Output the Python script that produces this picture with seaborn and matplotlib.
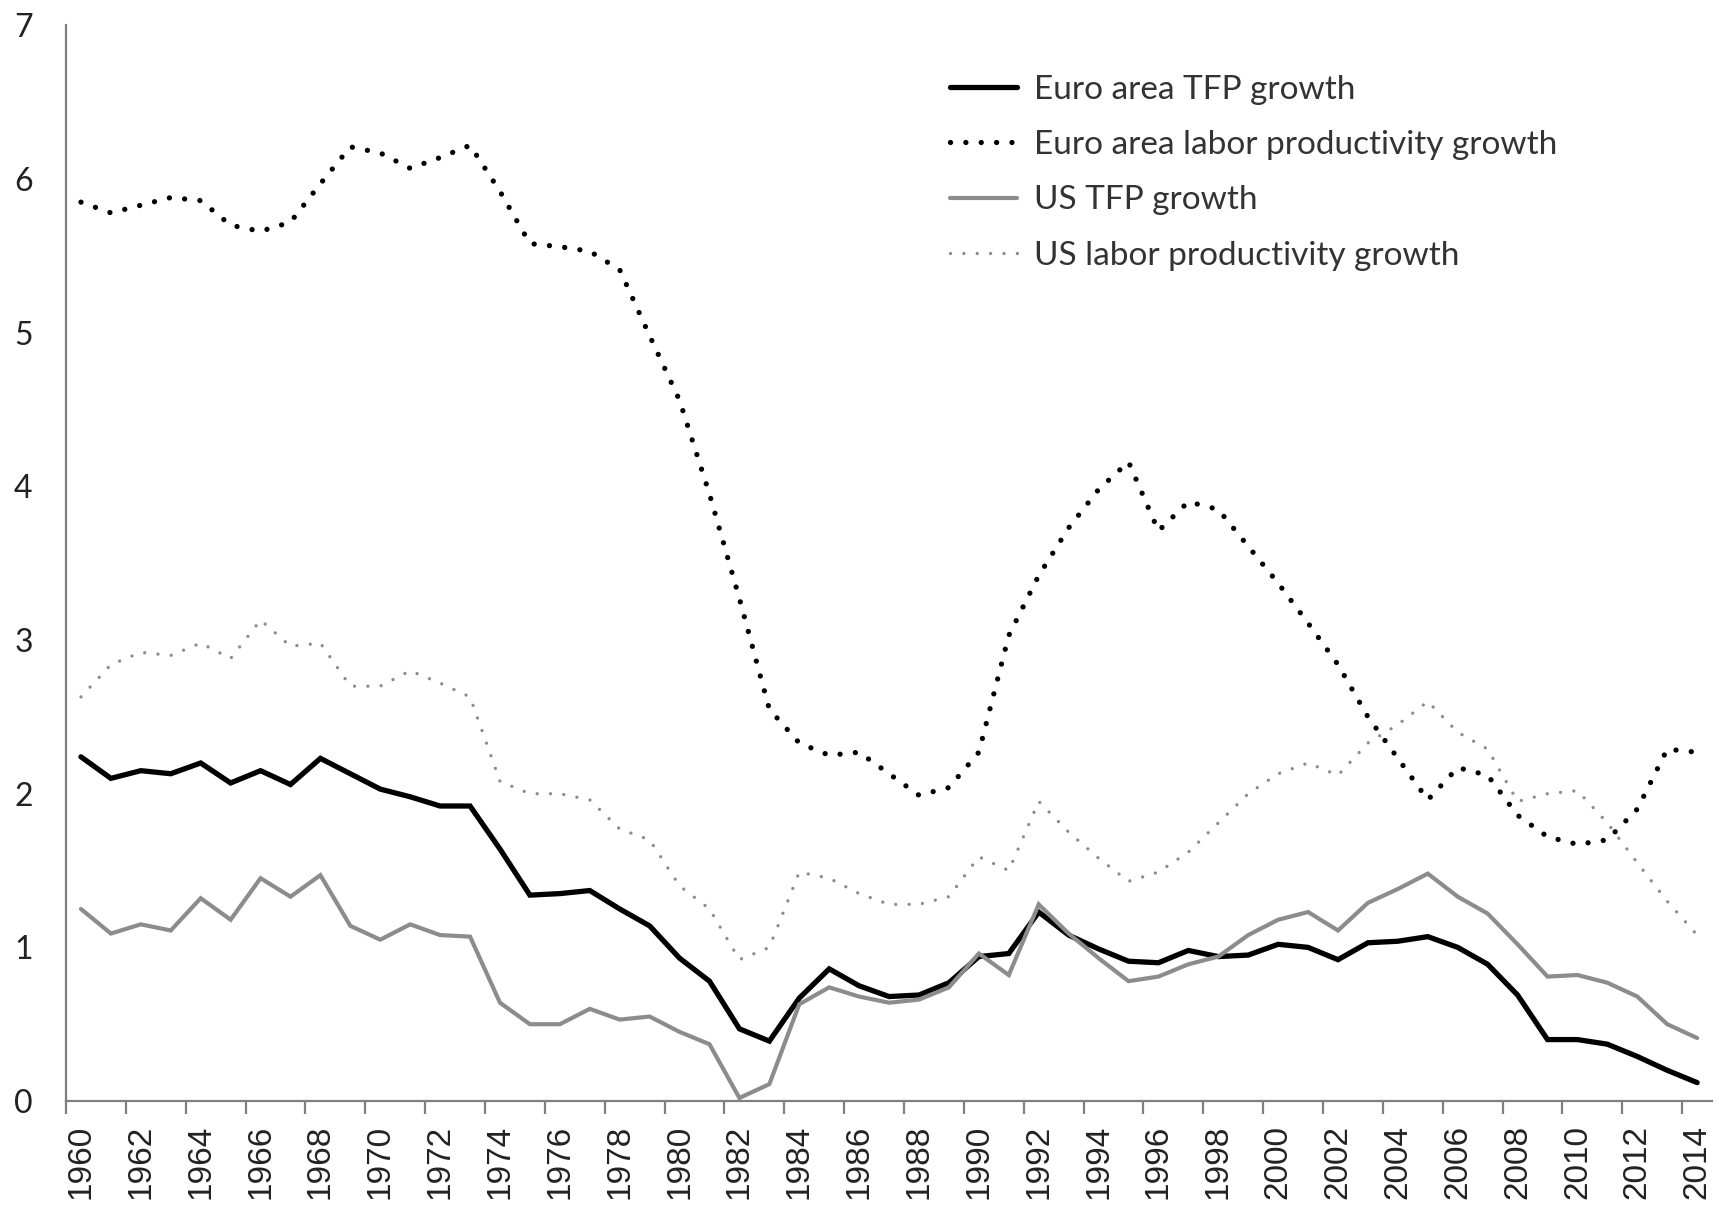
import numpy as np
import pandas as pd
import seaborn as sns
import matplotlib.pyplot as plt
from matplotlib.ticker import FixedLocator

years = list(range(1960, 2015))

euro_tfp = [2.24, 2.10, 2.15, 2.13, 2.20, 2.07, 2.15, 2.06, 2.23, 2.13,
            2.03, 1.98, 1.92, 1.92, 1.64, 1.34, 1.35, 1.37, 1.25, 1.14,
            0.93, 0.78, 0.47, 0.39, 0.67, 0.86, 0.75, 0.68, 0.69, 0.77,
            0.94, 0.96, 1.23, 1.08, 0.99, 0.91, 0.90, 0.98, 0.94, 0.95,
            1.02, 1.00, 0.92, 1.03, 1.04, 1.07, 1.00, 0.89, 0.69, 0.40,
            0.40, 0.37, 0.29, 0.20, 0.12]

euro_lp = [5.85, 5.78, 5.83, 5.88, 5.86, 5.70, 5.66, 5.72, 5.97, 6.21,
           6.17, 6.07, 6.14, 6.22, 5.92, 5.58, 5.56, 5.53, 5.41, 4.98,
           4.56, 3.95, 3.27, 2.55, 2.33, 2.25, 2.27, 2.13, 1.99, 2.04,
           2.27, 3.03, 3.42, 3.73, 3.98, 4.16, 3.71, 3.90, 3.85, 3.61,
           3.37, 3.11, 2.84, 2.50, 2.23, 1.96, 2.17, 2.12, 1.86, 1.72,
           1.67, 1.70, 1.90, 2.29, 2.27]

us_tfp = [1.25, 1.09, 1.15, 1.11, 1.32, 1.18, 1.45, 1.33, 1.47, 1.14,
          1.05, 1.15, 1.08, 1.07, 0.64, 0.50, 0.50, 0.60, 0.53, 0.55,
          0.45, 0.37, 0.02, 0.11, 0.63, 0.74, 0.68, 0.64, 0.66, 0.74,
          0.96, 0.82, 1.28, 1.09, 0.93, 0.78, 0.81, 0.89, 0.94, 1.08,
          1.18, 1.23, 1.11, 1.29, 1.38, 1.48, 1.33, 1.22, 1.02, 0.81,
          0.82, 0.77, 0.68, 0.50, 0.41]

us_lp = [2.63, 2.84, 2.92, 2.90, 2.98, 2.88, 3.13, 2.96, 2.98, 2.70,
         2.70, 2.80, 2.72, 2.63, 2.08, 2.00, 2.00, 1.96, 1.77, 1.70,
         1.40, 1.25, 0.92, 1.00, 1.49, 1.45, 1.35, 1.28, 1.28, 1.33,
         1.59, 1.50, 1.95, 1.75, 1.58, 1.43, 1.49, 1.62, 1.81, 2.00,
         2.13, 2.20, 2.12, 2.33, 2.45, 2.60, 2.40, 2.29, 1.95, 2.00,
         2.02, 1.81, 1.55, 1.30, 1.08]

series_names = ["Euro area TFP growth",
                "Euro area labor productivity growth",
                "US TFP growth",
                "US labor productivity growth"]

df = pd.DataFrame({"year": years,
                   series_names[0]: euro_tfp,
                   series_names[1]: euro_lp,
                   series_names[2]: us_tfp,
                   series_names[3]: us_lp})
long = df.melt(id_vars="year", var_name="series", value_name="value")

sns.set_style("white")
plt.rcParams["font.family"] = ["Lato", "DejaVu Sans"]

fig = plt.figure(figsize=(17.19, 12.11), dpi=100)
ax = fig.add_axes([0.0384, 0.0908, 0.9576, 0.8882])

styles = {
    series_names[0]: dict(color="black", lw=3.8, ls="-"),
    series_names[1]: dict(color="black", lw=3.8, ls=(0, (0.01, 2.9))),
    series_names[2]: dict(color="#8c8c8c", lw=3.0, ls="-"),
    series_names[3]: dict(color="#8c8c8c", lw=2.4, ls=(0, (0.01, 4.0))),
}

for name in series_names:
    st = styles[name]
    sns.lineplot(data=long[long["series"] == name], x="year", y="value", ax=ax,
                 color=st["color"], linewidth=st["lw"], linestyle=st["ls"],
                 label=name, dash_capstyle="round", solid_joinstyle="miter")

ax.set_xlim(1959.5, 2014.5)
ax.set_ylim(0, 7)
ax.set_xlabel("")
ax.set_ylabel("")

for side in ["top", "right"]:
    ax.spines[side].set_visible(False)
for side in ["left", "bottom"]:
    ax.spines[side].set_color("#808080")
    ax.spines[side].set_linewidth(1.6)

# labels at the year, tick marks between the categories
ax.set_xticks(years[::2])
ax.set_xticklabels([str(y) for y in years[::2]], rotation=90,
                   fontfamily="Liberation Sans", fontsize=24, color="#222222")
ax.xaxis.set_minor_locator(FixedLocator(np.arange(1959.5, 2015, 2)))
ax.tick_params(axis="x", which="major", length=0, pad=17)
ax.tick_params(axis="x", which="minor", length=9, width=1.6, color="#808080",
               direction="out", bottom=True)

ax.set_yticks(range(0, 8))
ax.set_yticklabels([str(v) for v in range(0, 8)], fontsize=23, color="#222222")
ax.tick_params(axis="y", length=0, pad=24)

leg = ax.legend(loc="upper left", bbox_to_anchor=(0.519, 0.982), frameon=False,
                fontsize=24, handlelength=2.0, handletextpad=0.5,
                labelspacing=0.76, labelcolor="#333333")
for line in leg.get_lines():
    line.set_dash_capstyle("round")

fig.savefig("out.png", dpi=100)
